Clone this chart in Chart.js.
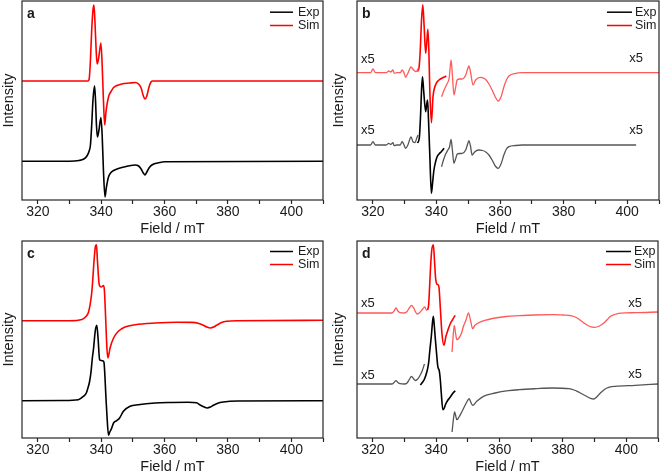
<!DOCTYPE html>
<html><head><meta charset="utf-8">
<script src="https://cdn.jsdelivr.net/npm/chart.js@4.4.0/dist/chart.umd.min.js"></script>
<style>
html,body{margin:0;padding:0;background:#fff;width:661px;height:476px;overflow:hidden}
.p{position:absolute}
</style></head><body>
<div class="p" style="left:0;top:0;width:330px;height:238px"><canvas id="ca" width="330" height="238"></canvas></div>
<div class="p" style="left:330px;top:0;width:331px;height:238px"><canvas id="cb" width="331" height="238"></canvas></div>
<div class="p" style="left:0;top:238px;width:330px;height:238px"><canvas id="cc" width="330" height="238"></canvas></div>
<div class="p" style="left:330px;top:238px;width:331px;height:238px"><canvas id="cd" width="331" height="238"></canvas></div>
<script>
// ---- axis / labels ----
const fieldRange = [315, 410];
const fieldTicks = [320, 340, 360, 380, 400];
const legendLabels = ['Exp', 'Sim'];
const panelLetters = ['a', 'b', 'c', 'd'];
const gainLabel = 'x5';

// ---- panel a : [field mT, intensity a.u.] ----
const aSim = [[315,119],[330,119],[335.8,119],[336.2,121],[336.6,140],[337.0,170],[337.4,190],[337.7,195],[338.0,180],[338.4,150],[338.7,136],[339.2,142],[339.9,157],[340.3,135],[340.7,100],[341.1,75],[341.5,88],[342.3,103],[343.2,109],[343.9,112.5],[346.5,116],[349,117],[350.7,117.5],[351.8,116],[352.6,112],[353.3,104],[353.8,101],[354.4,104],[355,112],[355.7,118],[356.3,119],[410,119]];
const aExp = [[315,38.7],[330,38.7],[333,39.5],[334.5,41],[335.5,44],[336.2,49],[336.6,55],[337.0,75],[337.4,100],[337.9,114.3],[338.2,100],[338.5,75],[338.8,63],[339.3,70],[339.9,82.5],[340.3,65],[340.7,30],[341.2,3],[341.6,12],[342.3,23],[343.1,27.5],[343.9,29.5],[345,31],[346.5,32.5],[348.5,34],[350.7,35],[351.8,34],[352.6,31],[353.3,27],[353.8,25],[354.4,28],[355.2,32.5],[356,35],[357,36.5],[358.5,37.5],[360,38.2],[410,38.7]];

// ---- panel b ----
const bSimX5Left = [[315,127.3],[319.3,127.3],[320.0,131],[320.8,127.3],[324.2,127.3],[325.0,129],[325.6,128],[326.3,130],[326.7,126.7],[327.5,127.3],[328.6,127.3],[329.2,130],[329.8,127],[330.3,122.7],[331.0,126.7],[332.0,133],[332.8,130],[333.6,128.3],[334.3,131.7]];
const bSimMain = [[334.0,128.5],[334.5,132],[334.9,150],[335.3,180],[335.7,195.3],[336.1,175],[336.6,146.7],[337.0,160],[337.3,170.7],[337.6,150],[337.9,110],[338.4,77.3],[338.9,103],[339.7,115],[340.8,120],[342.3,122.7],[343.1,124]];
const bSimX5Right = [[341.6,103.3],[342.4,110],[343.3,116],[344.0,122],[344.6,140],[345.0,125],[345.5,105],[346.0,112],[346.5,120],[347.3,121],[348.1,121],[349.2,125],[349.8,131],[350.2,134],[350.7,128],[351.5,115],[352.3,120],[353.9,122.7],[355.4,120.7],[356.5,116],[357.5,110],[358.5,103],[359.4,99],[360.3,103],[361.2,113],[362,120],[362.8,124],[364.9,126.7],[367,127.3],[410,127.3]];
const bExpX5Left = [[315,55],[319.3,55],[320.0,58.3],[320.8,55],[324.2,55],[325.0,56.7],[325.6,55.5],[326.3,57.3],[326.7,54.3],[327.5,55],[328.6,55],[329.2,58.3],[329.8,55],[330.3,51.7],[331.0,55],[332.0,63],[332.6,58.3],[333.3,57.5],[333.8,62],[334.2,65]];
const bExpMain = [[334.0,57],[334.6,62],[335.0,85],[335.3,110],[335.6,123.3],[336.0,108],[336.6,88.3],[336.9,95],[337.2,100],[337.5,80],[337.9,45],[338.4,6.7],[338.8,18],[339.2,30],[339.7,38],[340.2,43.3],[340.8,46],[341.5,48.3],[342.4,51.7]];
const bExpX5Right = [[341.6,33.3],[342.2,40],[342.9,46],[343.6,50],[344.1,53],[344.6,60.7],[345.0,50],[345.5,36.7],[346.0,41],[346.5,45.7],[347.3,46.5],[348.1,46.7],[349.2,50],[349.8,56],[350.2,59.3],[350.7,54],[351.2,45],[352.0,48],[353.2,50],[354.5,49.5],[355.5,48],[356.5,45],[357.5,40],[358.5,34],[359.4,31.7],[360.3,36],[361.2,45],[362,51],[362.8,53.3],[364.9,54.5],[367,55],[402.8,55]];

// ---- panel c ----
const cSim = [[315,117.3],[330,117.3],[333.9,118.5],[335.0,121],[335.5,122.7],[336.0,126],[336.5,133.3],[337.0,145],[337.3,156.7],[337.8,180],[338.2,192],[338.5,193.3],[338.8,178],[339.4,153],[340.0,151],[340.7,152.5],[341.0,148],[341.4,120],[341.8,90],[342.1,80],[342.5,85],[342.8,90],[343.9,100],[345.4,106.7],[347.5,111],[350.7,113.3],[357,115],[364,115.8],[368.5,115.6],[370.8,114.6],[372.2,112.8],[373.3,111],[374.5,110],[375.5,111],[376.4,112.7],[378,115.5],[379.6,116.7],[382.7,117.3],[410,117.7]];
const cExp = [[315,37.3],[328,37.5],[332.8,38.3],[334.4,41.7],[335.3,45],[335.8,50],[336.3,56],[336.8,66.7],[337.2,80],[337.6,90],[338.1,106.7],[338.6,112.7],[339.0,100],[339.5,78.3],[340.0,77.5],[340.6,77],[340.9,75],[341.2,60],[341.5,40],[341.8,23.3],[342.3,2.7],[342.7,6],[343.1,8.3],[343.9,15],[344.9,17.3],[345.8,20],[347,26.7],[349.1,31.7],[351.7,33.3],[357,35],[362.2,35.5],[367.5,35.7],[370.1,35.2],[371.2,33],[372.3,31.2],[373.5,30],[374.5,31],[375.4,32.7],[377.5,35.5],[380.6,36.7],[383,37],[410,37.3]];

// ---- panel d ----
const dSimX5Left = [[315,125],[326,125],[326.7,127],[327.3,130],[327.9,127],[328.6,125.3],[330,125],[330.8,126.5],[331.5,130],[332.2,132.7],[332.9,130],[333.5,126],[334.0,124],[334.8,125.5],[335.6,128.5],[336.4,131],[336.8,128.5],[337.1,127.3]];
const dSimMain = [[337.3,128],[337.6,133],[337.9,150],[338.2,170],[338.6,188],[339.1,193.3],[339.5,175],[339.8,160],[340.2,154],[340.6,153.3],[340.9,150],[341.3,130],[341.8,105],[342.4,92.7],[343.1,102],[343.7,108],[344.4,114],[345.2,118.5],[346.0,122.7]];
const dSimX5Right = [[345.0,86],[345.3,100],[345.7,112.7],[346.1,105],[346.5,98.3],[347.2,100],[348.0,105],[348.6,111.7],[349.4,118],[350.2,125],[350.8,118],[351.5,109.3],[352.2,112.7],[354.4,116.7],[356.5,118.5],[358.6,120],[362,121.5],[366.1,122.3],[371,123],[376.6,123.3],[380,123],[381.9,122.7],[383.5,121.5],[384.5,120],[385.8,117],[387.1,114],[388.5,111.5],[390.0,110.7],[391.5,112],[392.9,115],[394,118.5],[395,121.7],[396.3,123.5],[397.6,124.7],[400,125.2],[402.8,125.3],[410,126]];
const dExpX5Left = [[315,54],[326,54],[326.7,55.5],[327.3,57.3],[327.9,55.5],[328.6,54.3],[330,54],[330.8,55],[331.5,58.5],[332.2,61.7],[332.8,59.5],[333.4,57.5],[334.0,58.5],[334.7,61.5],[335.5,66.5],[336.3,74]];
const dExpMain = [[335.0,53],[335.6,55.5],[336.3,59],[337.1,66.7],[337.6,75],[338.0,88],[338.5,103.3],[338.8,115],[339.1,121.7],[339.4,112],[339.7,100],[340.1,85],[340.5,71.7],[341.0,66.7],[341.3,58],[341.6,45],[342.1,28.3],[342.5,29.5],[342.9,33.3],[343.6,37.5],[344.4,40.7],[345.2,44.5],[346.0,47.3]];
const dExpX5Right = [[345.0,6],[345.3,15],[345.6,23],[345.8,26],[346.1,23],[346.5,18.3],[347.2,21],[347.9,25],[349.2,33.3],[349.9,37.5],[350.4,39.3],[350.9,36],[351.5,32.7],[352.8,36.7],[354.9,41.7],[358.6,45],[362.8,47.3],[366.1,48.3],[371.4,49.3],[376.6,50],[381.9,49.3],[383.5,48],[384.5,46.7],[385.8,44.5],[387.1,42.3],[388.5,40],[389.7,39],[390.8,41.5],[391.8,45],[392.9,48],[393.9,50],[395,51.2],[396.5,51.7],[402.8,52.7],[410,54]];

// ---- gain label anchors [field, intensity] ----
const bGainNotes = [[318.4,141],[402.8,141.5],[318.4,69.2],[402.8,69.8]];
const dGainNotes = [[318.4,134.5],[402.8,135],[318.4,63],[402.8,63.3]];

// ---- styling ----
const FONT = "'Liberation Sans', Arial, sans-serif";
const TXT = '#1a1a1a';
const RED = '#ff0000', RED5 = '#ff5a5a', BLK = '#000000', GRY5 = '#555555';
Chart.defaults.font.family = FONT;

const toXY = arr => arr.map(([x, y]) => ({x, y}));
const ds = (arr, color, w) => ({data: toXY(arr), borderColor: color, borderWidth: w, pointRadius: 0, fill: false, cubicInterpolationMode: 'monotone'});

const decor = {
  id: 'decor',
  afterDatasetsDraw(chart, args, o) {
    const {ctx, chartArea: {left, right, top, bottom}, scales: {x, y}} = chart;
    ctx.save();
    ctx.strokeStyle = '#262626'; ctx.lineWidth = 1.2;
    ctx.strokeRect(left, top, right - left, bottom - top);
    ctx.fillStyle = TXT;
    ctx.textBaseline = 'middle'; ctx.textAlign = 'left';
    ctx.font = 'bold 14px ' + FONT;
    ctx.fillText(o.letter, left + 5, top + 13.5);
    // legend
    ctx.font = '12.5px ' + FONT;
    o.legend.forEach((it, i) => {
      const yy = top + o.legY[i];
      ctx.strokeStyle = it.color; ctx.lineWidth = 1.5;
      ctx.beginPath(); ctx.moveTo(right + o.legL0, yy); ctx.lineTo(right + o.legL1, yy); ctx.stroke();
      ctx.fillStyle = TXT;
      ctx.fillText(it.label, right + o.legT, yy);
    });
    // gain notes
    ctx.font = '13px ' + FONT; ctx.textAlign = 'center';
    (o.notes || []).forEach(([fx, iy]) => {
      ctx.fillText(gainLabel, x.getPixelForValue(fx), y.getPixelForValue(iy));
    });
    ctx.restore();
  }
};

function makeChart(id, datasets, cfg) {
  return new Chart(document.getElementById(id), {
    type: 'line',
    data: {datasets},
    plugins: [decor],
    options: {
      responsive: false, animation: false, events: [],
      layout: {padding: {left: 0, right: cfg.padR, top: cfg.padT, bottom: 0}},
      plugins: {
        legend: {display: false}, tooltip: {enabled: false},
        decor: {letter: cfg.letter, notes: cfg.notes,
          legend: [{label: legendLabels[0], color: BLK}, {label: legendLabels[1], color: RED}],
          legY: cfg.legY, legL0: cfg.legL0, legL1: cfg.legL1, legT: cfg.legT}
      },
      scales: {
        x: {
          type: 'linear', min: fieldRange[0], max: fieldRange[1], position: 'bottom',
          afterFit: s => { s.height = 38; },
          ticks: {stepSize: 10, includeBounds: false, autoSkip: false, maxRotation: 0, minRotation: 0, padding: 0,
            color: TXT, font: {family: FONT, size: 14},
            callback: v => fieldTicks.includes(v) ? String(v) : ''},
          grid: {display: true, drawOnChartArea: false, drawTicks: true, tickLength: 4, tickColor: '#262626', tickWidth: 1.2},
          border: {display: false},
          title: {display: true, text: 'Field / mT', color: TXT, font: {family: FONT, size: 14.5}, padding: 0}
        },
        y: {
          type: 'linear', min: 0, max: cfg.yMax,
          afterFit: s => { s.width = cfg.yW; },
          ticks: {display: false}, grid: {display: false}, border: {display: false},
          title: {display: true, text: 'Intensity', color: TXT, font: {family: FONT, size: 14.5}, padding: 0}
        }
      }
    }
  });
}

makeChart('ca', [ds(aExp, BLK, 1.6), ds(aSim, RED, 1.6)],
  {letter: panelLetters[0], padR: 7, padT: 1, yMax: 199, yW: 22, legY: [11.2, 24.5], legL0: -53, legL1: -30, legT: -25});
makeChart('cb', [ds(bExpX5Left, GRY5, 1.3), ds(bExpX5Right, GRY5, 1.3), ds(bExpMain, BLK, 1.6),
                 ds(bSimX5Left, RED5, 1.3), ds(bSimX5Right, RED5, 1.3), ds(bSimMain, RED, 1.6)],
  {letter: panelLetters[1], padR: 2, padT: 1, yMax: 199, yW: 27, notes: bGainNotes, legY: [11.2, 24.5], legL0: -52, legL1: -27, legT: -24});
makeChart('cc', [ds(cExp, BLK, 1.6), ds(cSim, RED, 1.6)],
  {letter: panelLetters[2], padR: 7, padT: 3, yMax: 197, yW: 22, legY: [10.5, 23.5], legL0: -53, legL1: -30, legT: -25});
makeChart('cd', [ds(dExpX5Left, GRY5, 1.3), ds(dExpX5Right, GRY5, 1.3), ds(dExpMain, BLK, 1.6),
                 ds(dSimX5Left, RED5, 1.3), ds(dSimX5Right, RED5, 1.3), ds(dSimMain, RED, 1.6)],
  {letter: panelLetters[3], padR: 3, padT: 3, yMax: 197, yW: 27, notes: dGainNotes, legY: [10.5, 23.5], legL0: -52, legL1: -27, legT: -24});
</script>
</body></html>
